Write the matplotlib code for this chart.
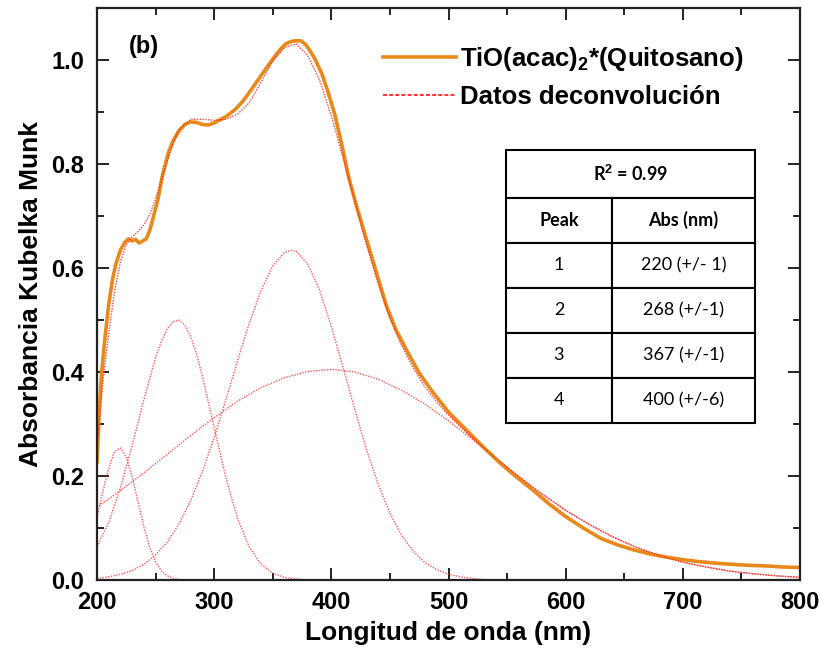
#!/usr/bin/env python
import matplotlib
matplotlib.use('Agg')
import matplotlib.pyplot as plt
from matplotlib.lines import Line2D
from matplotlib.ticker import MultipleLocator, FormatStrFormatter
import numpy as np

wl_meas = [200, 202, 204, 207, 210, 213, 216, 220, 224, 227, 230, 233, 236, 239, 242, 245,
           248, 252, 256, 261, 265, 270, 275, 280, 285, 290, 295, 300, 305, 310, 318, 325,
           332, 340, 346, 352, 357, 361, 365, 369, 374, 378, 382, 386, 392, 397, 403, 409,
           415, 422, 430, 438, 447, 455, 464, 475, 487, 500, 515, 530, 544, 558, 572, 586,
           600, 615, 630, 645, 658, 672, 686, 700, 715, 730, 743, 758, 772, 785, 800]
abs_meas = [0.225, 0.33, 0.40, 0.47, 0.53, 0.575, 0.607, 0.635, 0.650, 0.656, 0.652, 0.655,
            0.648, 0.652, 0.656, 0.672, 0.697, 0.732, 0.780, 0.822, 0.845, 0.864, 0.876,
            0.881, 0.880, 0.876, 0.875, 0.879, 0.885, 0.891, 0.905, 0.922, 0.944, 0.970,
            0.989, 1.008, 1.022, 1.031, 1.035, 1.037, 1.037, 1.030, 1.017, 1.002, 0.973,
            0.940, 0.895, 0.836, 0.773, 0.715, 0.655, 0.595, 0.527, 0.482, 0.443, 0.398,
            0.360, 0.323, 0.289, 0.255, 0.225, 0.198, 0.173, 0.146, 0.122, 0.100, 0.080,
            0.067, 0.058, 0.050, 0.044, 0.039, 0.035, 0.032, 0.030, 0.028, 0.027, 0.025, 0.024]

# deconvolution peaks
wl_p1 = [200, 205, 210, 215, 220, 225, 230, 235, 240, 245, 250, 255, 260, 265, 270, 275, 800]
abs_p1 = [0.120, 0.170, 0.215, 0.247, 0.254, 0.237, 0.198, 0.150, 0.102, 0.062, 0.035,
          0.017, 0.008, 0.003, 0.001, 0.0, 0.0]

wl_p2 = [200, 210, 220, 230, 240, 250, 255, 260, 265, 270, 275, 280, 285, 290, 300, 310,
         320, 330, 340, 350, 360, 370, 380, 800]
abs_p2 = [0.064, 0.111, 0.177, 0.259, 0.347, 0.428, 0.459, 0.483, 0.497, 0.500, 0.490,
          0.468, 0.434, 0.391, 0.293, 0.197, 0.118, 0.063, 0.030, 0.013, 0.005, 0.002,
          0.0, 0.0]

wl_p3 = [200, 210, 220, 230, 240, 250, 260, 270, 280, 290, 300, 310, 320, 330, 340, 350,
         360, 366, 370, 380, 390, 400, 410, 420, 430, 440, 450, 460, 470, 480, 490, 500,
         510, 520, 530, 540, 800]
abs_p3 = [0.003, 0.006, 0.011, 0.018, 0.030, 0.048, 0.073, 0.108, 0.153, 0.209, 0.274,
          0.347, 0.422, 0.494, 0.557, 0.604, 0.630, 0.634, 0.632, 0.607, 0.557, 0.488,
          0.409, 0.328, 0.251, 0.184, 0.128, 0.086, 0.055, 0.033, 0.020, 0.011, 0.006,
          0.003, 0.001, 0.0, 0.0]

wl_p4 = [200, 220, 240, 260, 280, 300, 320, 340, 360, 380, 400, 420, 440, 460, 480, 500,
         520, 540, 560, 580, 600, 620, 640, 660, 680, 700, 720, 740, 760, 780, 800]
abs_p4 = [0.140, 0.172, 0.206, 0.242, 0.278, 0.312, 0.344, 0.370, 0.389, 0.401, 0.405,
          0.400, 0.386, 0.365, 0.338, 0.306, 0.271, 0.235, 0.199, 0.165, 0.134, 0.107,
          0.083, 0.063, 0.047, 0.034, 0.025, 0.017, 0.012, 0.008, 0.005]

# cumulative fit
wl_fit = [200, 205, 210, 215, 220, 225, 230, 235, 240, 245, 250, 255, 260, 265, 270, 280,
          290, 300, 310, 320, 330, 340, 350, 360, 370, 380, 390, 400, 410, 420, 430, 440,
          450, 460, 470, 480, 490, 500, 510, 520, 530, 540, 560, 580, 600, 620, 640, 660,
          680, 700, 720, 740, 760, 780, 800]
abs_fit = [0.260, 0.380, 0.475, 0.555, 0.612, 0.645, 0.660, 0.670, 0.683, 0.703, 0.733,
           0.768, 0.806, 0.840, 0.866, 0.886, 0.886, 0.884, 0.886, 0.896, 0.918, 0.957,
           0.998, 1.024, 1.031, 1.008, 0.961, 0.893, 0.812, 0.728, 0.645, 0.570, 0.504,
           0.451, 0.407, 0.371, 0.342, 0.317, 0.295, 0.274, 0.254, 0.235, 0.199, 0.165,
           0.134, 0.107, 0.083, 0.063, 0.047, 0.034, 0.025, 0.017, 0.012, 0.008, 0.005]

peaks = ['1', '2', '3', '4']
peak_pos = ['220 (+/- 1)', '268 (+/-1)', '367 (+/-1)', '400 (+/-6)']
r2 = '0.99'

orange = '#E8891A'
red = '#FF2020'
narrow = ['Liberation Sans Narrow', 'Liberation Sans', 'DejaVu Sans']

plt.rcParams['font.family'] = ['Liberation Sans', 'DejaVu Sans']
plt.rcParams['mathtext.fontset'] = 'custom'
plt.rcParams['mathtext.rm'] = 'Liberation Sans:bold'
plt.rcParams['mathtext.bf'] = 'Liberation Sans:bold'

fig = plt.figure(figsize=(8.19, 6.61), dpi=100)
ax = fig.add_axes([97 / 819, 81 / 661, 703 / 819, 572 / 661])

dot = (0, (1, 1))
for wl, ab in [(wl_p1, abs_p1), (wl_p2, abs_p2), (wl_p3, abs_p3), (wl_p4, abs_p4)]:
    ax.plot(wl, ab, color=red, lw=1.0, ls=dot, alpha=0.75)
ax.plot(wl_meas, abs_meas, color=orange, lw=2.6, solid_capstyle='round')
ax.plot(wl_fit, abs_fit, color=red, lw=1.0, ls=dot, alpha=0.85)

ax.set_xlim(200, 800)
ax.set_ylim(0, 1.10)
ax.xaxis.set_major_locator(MultipleLocator(100))
ax.xaxis.set_minor_locator(MultipleLocator(50))
ax.yaxis.set_major_locator(MultipleLocator(0.2))
ax.yaxis.set_minor_locator(MultipleLocator(0.1))
ax.yaxis.set_major_formatter(FormatStrFormatter('%.1f'))
ax.tick_params(which='both', direction='in', top=True, right=True, width=1.4, color='#222222')
ax.tick_params(which='major', length=8.5)
ax.tick_params(which='minor', length=5)
ax.tick_params(axis='y', which='major', pad=9)
ax.tick_params(axis='x', which='major', pad=8)
for s in ax.spines.values():
    s.set_linewidth(1.6)
    s.set_color('#222222')
for lab in ax.get_xticklabels() + ax.get_yticklabels():
    lab.set_family(narrow)
    lab.set_fontweight('bold')
    lab.set_fontsize(17)

ax.set_xlabel('Longitud de onda (nm)', family=narrow, fontweight='bold', fontsize=19, labelpad=5)
ax.set_ylabel('Absorbancia Kubelka Munk', family=narrow, fontweight='bold', fontsize=19, labelpad=6)

ax.text(0.045, 0.932, '(b)', transform=ax.transAxes, fontsize=17, fontweight='bold', va='center')

handles = [Line2D([], [], color=orange, lw=2.6),
           Line2D([], [], color=red, lw=1.3, ls=(0, (2.2, 1.2)))]
labels = [r'TiO(acac)$_2$*(Quitosano)', 'Datos deconvolución']
leg = ax.legend(handles, labels, loc='upper left', bbox_to_anchor=(0.407, 0.935), frameon=False,
                prop={'weight': 'bold', 'size': 18.5}, handlelength=2.85, handletextpad=0.15,
                labelspacing=0.45, borderaxespad=0, borderpad=0)

# results table
tfont = ['Lato', 'DejaVu Sans']
t1 = ax.table(cellText=[['R$^2$ = ' + r2]], cellLoc='center', bbox=[0.582, 0.668, 0.354, 0.084])
rows = [['Peak', 'Abs (nm)']] + [[p, a] for p, a in zip(peaks, peak_pos)]
t2 = ax.table(cellText=rows, cellLoc='center', colWidths=[0.424, 0.576],
              bbox=[0.582, 0.2745, 0.354, 0.3935])
for t in (t1, t2):
    t.auto_set_font_size(False)
    for (r, c), cell in t.get_celld().items():
        cell.set_linewidth(1.5)
        cell.set_edgecolor('black')
        cell.get_text().set_fontsize(13)
        cell.get_text().set_family(tfont)
        if t is t1 or r == 0:
            cell.get_text().set_fontweight('bold')

fig.savefig('out.png', dpi=100)
